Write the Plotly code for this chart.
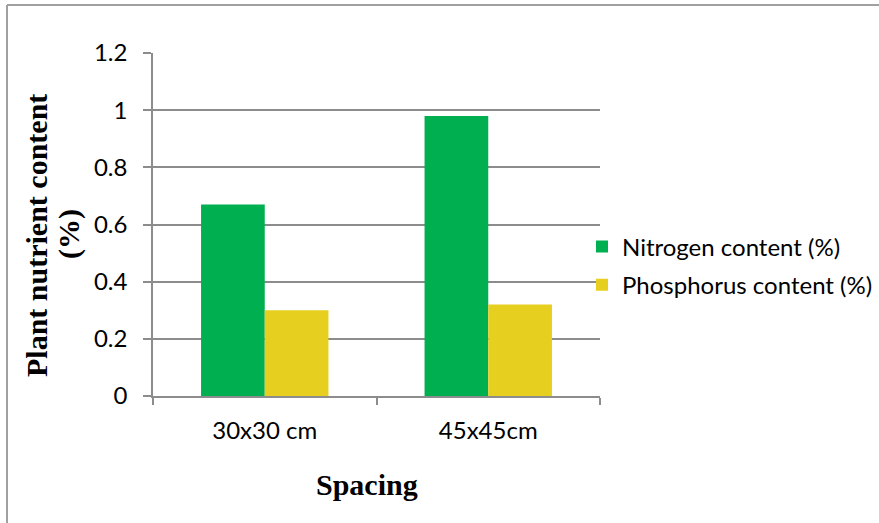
import plotly.graph_objects as go

# Data
spacings = ["30x30 cm", "45x45cm"]
nitrogen = [0.67, 0.98]
phosphorus = [0.30, 0.32]
y_ticks = [0, 0.2, 0.4, 0.6, 0.8, 1.0, 1.2]
y_tick_text = ["0", "0.2", "0.4", "0.6", "0.8", "1", "1.2"]

W, H = 879, 523
L, R, T, B = 153, 279, 53, 127
pw, ph = W - L - R, H - T - B

def px_x(x):
    return (x - L) / pw

def px_y(y):
    return (H - B - y) / ph

label_font = dict(family="Lato, Open Sans, sans-serif", size=24, color="#000000")
title_font = dict(family="Liberation Serif, Times New Roman, serif", size=30, color="#000000")
grid_col = "#8c8c8c"

fig = go.Figure()
fig.add_trace(go.Bar(x=spacings, y=nitrogen, name="Nitrogen content (%)",
                     legendgroup="n",
                     marker=dict(color="#00B050", line=dict(width=0))))
fig.add_trace(go.Bar(x=spacings, y=phosphorus, name="Phosphorus content (%)",
                     legendgroup="p",
                     marker=dict(color="#E6CF1F", line=dict(width=0))))

fig.update_layout(
    width=W, height=H,
    margin=dict(l=L, r=R, t=T, b=B, pad=0, autoexpand=False),
    paper_bgcolor="white", plot_bgcolor="white",
    barmode="group", bargap=0.43, bargroupgap=0,
    font=label_font,
    legend=dict(x=px_x(582), y=px_y(266), xanchor="left", yanchor="middle",
                font=label_font, itemsizing="constant", tracegroupgap=4,
                bgcolor="rgba(0,0,0,0)"),
    xaxis=dict(type="category", showline=True, linecolor=grid_col, linewidth=1.5,
               ticks="outside", tickson="boundaries", ticklen=7, tickcolor=grid_col,
               tickwidth=1.5, showgrid=False, tickfont=label_font, ticklabelstandoff=12),
    yaxis=dict(range=[0, 1.2], tickvals=y_ticks, ticktext=y_tick_text,
               showgrid=True, gridcolor=grid_col, gridwidth=1.5,
               showline=True, linecolor=grid_col, linewidth=1.5,
               ticks="outside", ticklen=8, tickcolor=grid_col, tickwidth=1.5,
               tickfont=label_font, zeroline=False, ticklabelstandoff=11),
    shapes=[
        dict(type="line", xref="paper", yref="paper",
             x0=px_x(7), x1=px_x(7), y0=px_y(5), y1=px_y(H + 5),
             line=dict(color="#a0a0a0", width=2)),
        dict(type="line", xref="paper", yref="paper",
             x0=px_x(7), x1=px_x(W + 5), y0=px_y(5), y1=px_y(5),
             line=dict(color="#a0a0a0", width=2)),
    ],
    annotations=[
        dict(text="<b>Spacing</b>", xref="paper", yref="paper",
             x=px_x(367), y=px_y(484), xanchor="center", yanchor="middle",
             showarrow=False, font=title_font),
        dict(text="<b>Plant nutrient content</b>", xref="paper", yref="paper",
             x=px_x(36), y=px_y(236), xanchor="center", yanchor="middle",
             textangle=-90, showarrow=False, font=title_font),
        dict(text="<b>(%)</b>", xref="paper", yref="paper",
             x=px_x(69), y=px_y(234), xanchor="center", yanchor="middle",
             textangle=-90, showarrow=False, font=title_font),
    ],
)

fig.write_html("out.html")
